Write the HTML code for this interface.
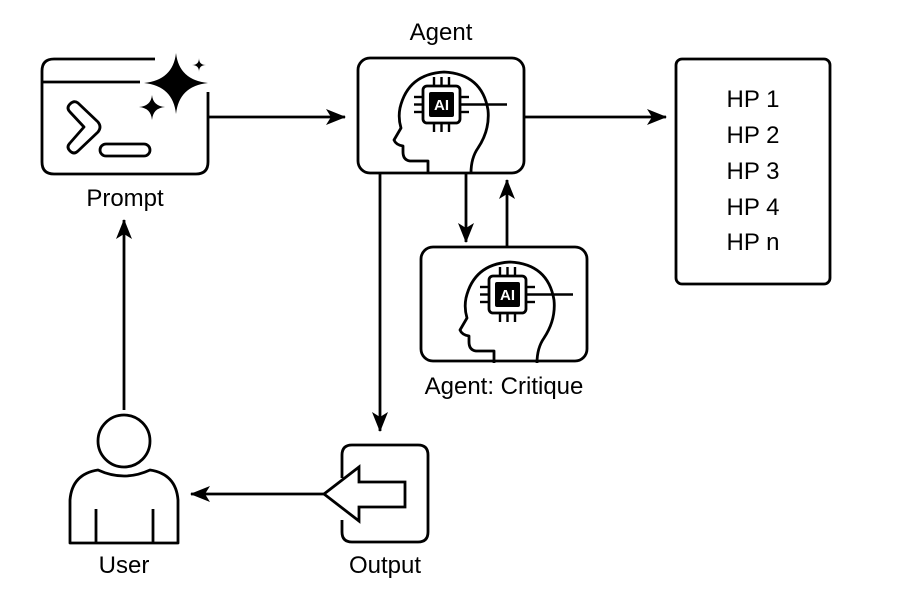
<!DOCTYPE html>
<html><head><meta charset="utf-8"><style>
html,body{margin:0;padding:0;background:#fff;}
svg{display:block;}
text{font-family:"Liberation Sans",Arial,sans-serif;fill:#000;}
</style></head><body>
<svg width="902" height="598" viewBox="0 0 902 598" xmlns="http://www.w3.org/2000/svg">
<defs>
<marker id="ah" markerWidth="20" markerHeight="16" refX="19" refY="8" orient="auto" markerUnits="userSpaceOnUse" viewBox="0 0 20 16">
<path d="M0,0 L20,8 L0,16 L5,8 Z" fill="#000"/>
</marker>
<g id="head">
<path d="M428,173 L428,161 L410,161 Q403,160 403,152 L403,146 Q396,145 394,140 L401,128 Q398,118 400,108 Q408,74 444,72 Q482,74 488,110 Q490,130 478,148 Q471,158 471,173" fill="none" stroke="#000" stroke-width="2.8" stroke-linejoin="round"/>
<rect x="423" y="86" width="37" height="37" rx="4" fill="#fff" stroke="#000" stroke-width="2.8"/>
<rect x="429" y="92" width="25" height="25" rx="2" fill="#000"/>
<text x="441.5" y="110" font-size="15" font-weight="bold" text-anchor="middle" style="fill:#fff">AI</text>
<g stroke="#000" stroke-width="2.4">
<line x1="434" y1="86" x2="434" y2="77"/><line x1="441.5" y1="86" x2="441.5" y2="77"/><line x1="449" y1="86" x2="449" y2="77"/>
<line x1="434" y1="123" x2="434" y2="132"/><line x1="441.5" y1="123" x2="441.5" y2="132"/><line x1="449" y1="123" x2="449" y2="132"/>
<line x1="423" y1="97" x2="414" y2="97"/><line x1="423" y1="104.5" x2="414" y2="104.5"/><line x1="423" y1="112" x2="414" y2="112"/>
<line x1="460" y1="97" x2="469" y2="97"/><line x1="460" y1="112" x2="469" y2="112"/>
<line x1="460" y1="104.5" x2="507" y2="104.5"/>
</g>
</g>
</defs>

<!-- Prompt box -->
<path d="M155,59 L54,59 Q42,59 42,71 L42,162 Q42,174 54,174 L196,174 Q208,174 208,162 L208,92" fill="none" stroke="#000" stroke-width="2.8"/>
<line x1="42" y1="82" x2="140" y2="82" stroke="#000" stroke-width="2.8"/>
<path d="M176,53 Q179,80 208,83 Q179,86 176,114 Q173,86 144,83 Q173,80 176,53 Z" fill="#000"/>
<path d="M152,95 Q153,106 165,107 Q153,108 152,120 Q151,108 139,107 Q151,106 152,95 Z" fill="#000"/>
<path d="M199,58 Q199,65 206,65 Q199,65 199,72 Q199,65 192,65 Q199,65 199,58 Z" fill="#000"/>
<path d="M70,104 Q74,100 78,103 L98,122 Q102,127 98,132 L78,151 Q74,155 70,151 Q66,147 70,143 L84,127 L70,112 Q66,108 70,104 Z" fill="none" stroke="#000" stroke-width="2.8" stroke-linejoin="round"/>
<rect x="100" y="144" width="50" height="12" rx="6" fill="none" stroke="#000" stroke-width="2.8"/>
<text x="125" y="206" font-size="24" text-anchor="middle">Prompt</text>

<!-- Agent -->
<text x="441" y="40" font-size="24" text-anchor="middle">Agent</text>
<rect x="358" y="58" width="166" height="115" rx="12" fill="none" stroke="#000" stroke-width="2.8"/>
<use href="#head"/>

<!-- Critique -->
<rect x="421" y="247" width="166" height="114" rx="12" fill="none" stroke="#000" stroke-width="2.8"/>
<use href="#head" transform="translate(66,190)"/>
<text x="504" y="394" font-size="24" text-anchor="middle">Agent: Critique</text>

<!-- HP box -->
<rect x="676" y="59" width="154" height="225" rx="6" fill="none" stroke="#000" stroke-width="2.8"/>
<g font-size="24" text-anchor="middle">
<text x="753" y="107">HP 1</text>
<text x="753" y="143">HP 2</text>
<text x="753" y="179">HP 3</text>
<text x="753" y="215">HP 4</text>
<text x="753" y="250">HP n</text>
</g>

<!-- arrows -->
<g stroke="#000" stroke-width="2.8" fill="none">
<line x1="208" y1="117" x2="345" y2="117" marker-end="url(#ah)"/>
<line x1="524" y1="117" x2="666" y2="117" marker-end="url(#ah)"/>
<line x1="466" y1="173" x2="466" y2="242" marker-end="url(#ah)"/>
<line x1="507" y1="247" x2="507" y2="180" marker-end="url(#ah)"/>
<line x1="380" y1="173" x2="380" y2="431" marker-end="url(#ah)"/>
<line x1="324" y1="494" x2="191" y2="494" marker-end="url(#ah)"/>
<line x1="124" y1="410" x2="124" y2="220" marker-end="url(#ah)"/>
</g>

<!-- Output -->
<path d="M342,478 L342,455 Q342,445 352,445 L418,445 Q428,445 428,455 L428,532 Q428,542 418,542 L352,542 Q342,542 342,532 L342,520" fill="none" stroke="#000" stroke-width="2.8"/>
<path d="M324,494 L359,467 L359,482 L405,482 L405,507 L359,507 L359,521 Z" fill="none" stroke="#000" stroke-width="2.8" stroke-linejoin="miter"/>
<text x="385" y="573" font-size="24" text-anchor="middle">Output</text>

<!-- User -->
<circle cx="124" cy="441" r="26" fill="none" stroke="#000" stroke-width="2.8"/>
<path d="M70,543 L70,500 Q72,474 98,470 Q124,482 150,470 Q176,474 178,500 L178,543 Z" fill="none" stroke="#000" stroke-width="2.8" stroke-linejoin="round"/>
<line x1="96" y1="509" x2="96" y2="543" stroke="#000" stroke-width="2.8"/>
<line x1="153" y1="509" x2="153" y2="543" stroke="#000" stroke-width="2.8"/>
<text x="124" y="573" font-size="24" text-anchor="middle">User</text>
</svg>
</body></html>
